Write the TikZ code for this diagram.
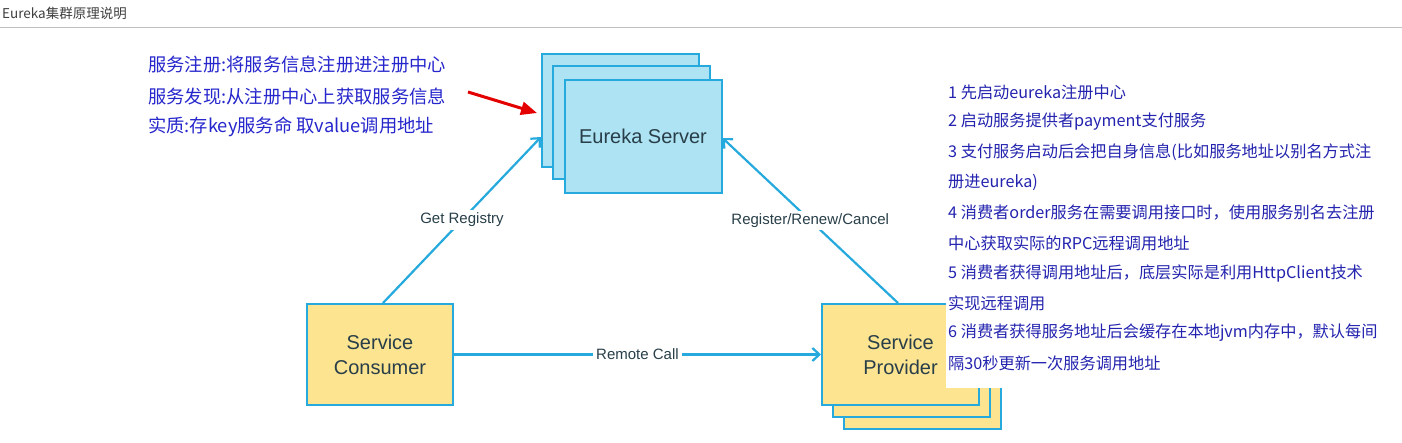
\documentclass[tikz,border=0pt]{standalone}
\usepackage{fontspec}
\setmainfont{Liberation Sans}
\newfontfamily\cjk{Noto Sans CJK SC}
\usetikzlibrary{arrows.meta}
\definecolor{edge}{RGB}{38,170,222}
\definecolor{srvfill}{RGB}{174,227,243}
\definecolor{provfill}{RGB}{253,228,145}
\definecolor{lbl}{RGB}{40,62,72}
\definecolor{noteblue}{RGB}{38,38,205}
\definecolor{stepblue}{RGB}{35,35,175}
\begin{document}
\begin{tikzpicture}[x=1pt,y=-1pt,
  srvbox/.style={draw=edge, line width=2pt, fill=srvfill, minimum width=157pt, minimum height=113pt, inner sep=0pt},
  provbox/.style={draw=edge, line width=2pt, fill=provfill, minimum width=157pt, minimum height=101pt, inner sep=0pt},
  cons/.style={draw=edge, line width=2pt, fill=provfill, minimum width=146pt, minimum height=101pt, inner sep=0pt},
  boxtext/.style={text=lbl, font=\fontsize{20}{25}\selectfont, align=center},
  conn/.style={draw=edge, line width=2.2pt, -{Straight Barb[length=7pt,width=13pt,line width=2.2pt]}},
  edgelbl/.style={fill=white, text=lbl, font=\fontsize{15}{18}\selectfont, inner sep=3pt},
  note/.style={anchor=west, text=noteblue, font=\cjk\fontsize{18.3}{22}\selectfont, inner sep=0pt},
  stepline/.style={anchor=west, text=stepblue, font=\cjk\fontsize{16.2}{20}\selectfont, inner sep=0pt}
]
\path[fill=white] (0,0) rectangle (1402,442);
\useasboundingbox (0,0) rectangle (1402,442);

% title
\node[anchor=west, inner sep=0pt, text=black!75, font=\cjk\fontsize{13.5}{16}\selectfont] (title) at (2,13) {Eureka集群原理说明};
\draw[black!25, line width=1.5pt] (0,27.5) -- (1402,27.5);

% Eureka server stack
\node[srvbox] (es3) at (620.5,110.5) {};
\node[srvbox] (es2) at (631.5,122.5) {};
\node[srvbox, boxtext] (es) at (643,136) {Eureka Server};

% consumer
\node[cons, boxtext] (consumer) at (380,354.5) {Service\\Consumer};

% provider stack
\node[provbox] (prov3) at (922.5,378.5) {};
\node[provbox] (prov2) at (911.5,366.5) {};
\node[provbox, boxtext] (prov) at (900.5,354.5) {Service\\Provider};

% connectors
\draw[conn] ([xshift=3pt]consumer.north) -- node[edgelbl] (lget) {Get Registry} ([yshift=-26.5pt]es3.west);
\draw[conn] ([xshift=-2.5pt]prov.north) -- node[edgelbl] (lreg) {Register/Renew/Cancel} ([yshift=-2pt]es.east);
\draw[conn] (consumer.east) -- node[edgelbl, pos=0.5] (lcall) {Remote Call} (prov.west);

% red arrow
\coordinate (rtail) at (468,92);
\coordinate (rtip) at (537,113);
\draw[red!90!black, line width=3pt, -{Triangle[length=16pt,width=13pt]}] (rtail) -- (rtip);

% left notes
\node[note] (n1) at (148,65) {服务注册:将服务信息注册进注册中心};
\node[note] (n2) at (148,97) {服务发现:从注册中心上获取服务信息};
\node[note] (n3) at (148,127) {实质:存key服务命 取value调用地址};

% right panel
\node[fill=white, anchor=north west, minimum width=452pt, minimum height=314pt, inner sep=0pt] (panel) at (946,74) {};
\node[stepline] (s1) at (948,92) {1 先启动eureka注册中心};
\node[stepline] (s2) at (948,122) {2 启动服务提供者payment支付服务};
\node[stepline] (s3) at (948,152) {3 支付服务启动后会把自身信息(比如服务地址以别名方式注};
\node[stepline] (s4) at (948,182) {册进eureka)};
\node[stepline] (s5) at (948,213) {4 消费者order服务在需要调用接口时，使用服务别名去注册};
\node[stepline] (s6) at (948,243) {中心获取实际的RPC远程调用地址};
\node[stepline] (s7) at (948,273) {5 消费者获得调用地址后，底层实际是利用HttpClient技术};
\node[stepline] (s8) at (948,303) {实现远程调用};
\node[stepline] (s9) at (948,333) {6 消费者获得服务地址后会缓存在本地jvm内存中，默认每间};
\node[stepline] (s10) at (948,363) {隔30秒更新一次服务调用地址};
\end{tikzpicture}
\end{document}
